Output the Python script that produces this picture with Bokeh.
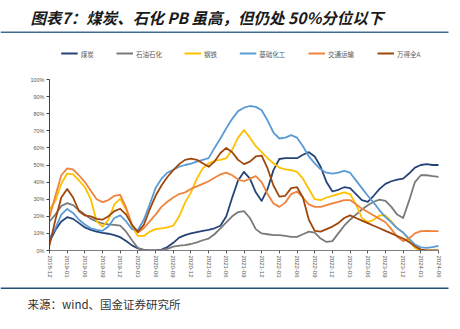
import math
from bokeh.plotting import figure
from bokeh.layouts import column
from bokeh.models import Range1d, FixedTicker
from bokeh.core.properties import value
from bokeh.embed import file_html
from bokeh.resources import INLINE

# ---------------- data (monthly, 2018-12 .. 2024-06, PB percentile %) ----------------
month_index = list(range(67))
tick_positions = [0, 3, 6, 9, 12, 15, 18, 21, 24, 27, 30, 33, 36, 39, 42, 45, 48, 51, 54, 57, 60, 63, 66]
tick_labels = ["2018-12", "2019-03", "2019-06", "2019-09", "2019-12", "2020-03", "2020-06",
               "2020-09", "2020-12", "2021-03", "2021-06", "2021-09", "2021-12", "2022-03",
               "2022-06", "2022-09", "2022-12", "2023-03", "2023-06", "2023-09", "2023-12",
               "2024-03", "2024-06"]
y_ticks = [0, 10, 20, 30, 40, 50, 60, 70, 80, 90, 100]
y_tick_labels = ["0%", "10%", "20%", "30%", "40%", "50%", "60%", "70%", "80%", "90%", "100%"]

series_names = ["煤炭", "石油石化", "钢铁", "基础化工", "交通运输", "万得全A"]

coal = [5, 12, 17, 19.5, 18.5, 16, 13.5, 12, 11, 10.3,
        9.8, 9, 7.8, 5.5, 3, 1.2, 0.3, 0, 0, 0.5,
        2, 4.5, 7.5, 9, 10, 10.8, 11.5, 12, 13, 14.5,
        20, 31, 41, 46, 42, 34, 29, 36, 47, 53.5,
        54, 54, 54, 56, 57.5, 55, 49, 40, 34.5, 35.5,
        37, 36.5, 33, 29.5, 28.5, 32, 36, 39, 40.5, 41.5,
        42, 45, 48.5, 50, 50.5, 50, 50]
oil = [17, 21, 26, 27.7, 26.5, 23.5, 21, 18.5, 17, 15.8,
       15.3, 15, 14.5, 11, 6, 1.5, 0.3, 0, 0, 0.3,
       1, 2.3, 2.8, 3.2, 3.8, 4.8, 6, 7, 9.5, 13,
       16.5, 20, 22.5, 23, 19, 12.5, 10, 9.5, 9, 9,
       8.5, 8, 8, 9.5, 11, 10.5, 7, 5, 5.5, 10,
       14.5, 18, 21, 24, 26.5, 28.5, 29.7, 29, 25.5, 21,
       19, 29, 40, 44, 44, 43.5, 43]
steel = [24, 29, 39, 45, 44.5, 41, 37, 30, 17, 14,
         18, 27, 30.3, 24, 14, 8.5, 8.5, 11, 12.5, 13,
         13.5, 14.5, 20, 28, 34, 42, 48, 51, 52.5, 53,
         54, 59, 66, 70.5, 66, 61, 57.5, 54, 51, 48.5,
         47.5, 47, 46, 42, 36, 30, 29.5, 31, 32, 33,
         34, 33, 27, 19, 16.6, 18, 20.5, 20.5, 17, 13,
         10.5, 6, 1.5, 0, 0, 0, 0]
chem = [7, 13, 21, 24.3, 22, 18, 15.2, 13, 12, 11.5,
        14, 19, 20.5, 17, 12.5, 12, 18, 27, 36.5, 42,
        45.5, 47.2, 49, 50, 50.8, 52, 53, 54, 60, 65.5,
        71.5, 77, 81.5, 83.5, 84.5, 84, 82, 76, 69, 65.5,
        66, 67.5, 66, 61, 55, 51, 47.5, 45.5, 45, 45.5,
        46.5, 45.5, 41, 36.5, 32, 28, 23.5, 19.5, 16.5, 13,
        10.5, 7, 3.5, 1.8, 1.5, 2, 2.7]
transport = [19.5, 32, 44, 48, 47.5, 44, 40, 35, 30, 28.3,
             29.5, 32, 32.5, 25, 15, 10.5, 13, 17, 21, 25.5,
             28.5, 31, 33, 34, 36, 37.5, 39, 40.5, 42.5, 44.5,
             45.5, 44, 41.5, 40.5, 42, 43.5, 40, 33, 27.5, 25.5,
             28, 33, 34.5, 31, 27, 25.5, 25.5, 26.5, 27.5, 28.5,
             29.5, 29.5, 27, 24.5, 22.5, 20.5, 18.5, 16.5, 12.5, 8,
             5.5, 7, 10, 11.3, 11.5, 11.3, 11.3]
wind_a = [3, 18, 31, 36, 31, 23, 20.5, 20, 18.5, 18,
          20, 23, 24.4, 21, 15, 10.8, 15, 24, 32, 38,
          43, 47, 50.5, 53, 53.7, 53, 51, 49, 52, 57,
          60, 57.5, 53, 50.5, 52, 55, 55.5, 48, 38, 31.5,
          32, 36.5, 37, 31, 18, 11.5, 11, 12.5, 14, 16,
          19, 20.5, 19, 17.5, 16, 14.5, 13, 11.5, 10, 8.5,
          7, 5, 2.5, 0.5, 0, 0, 0]

series_values = [coal, oil, steel, chem, transport, wind_a]
series_colors = ["#264478", "#7a7a7a", "#FFC000", "#5B9BD5", "#F0843C", "#9E480E"]

# ---------------- layout (pixels) ----------------
W = 460
TOP_H = 70          # title + rule + legend strip
MAIN_H = 215        # chart
BOT_H = 329 - TOP_H - MAIN_H
FL, FR = 49, 438    # frame left/right in page px
FT, FB = 79, 250    # frame top/bottom in page px
XMAX = 66
CJK = "Noto Sans CJK SC"


def strip(height):
    f = figure(width=W, height=height, output_backend="svg", toolbar_location=None,
               x_range=Range1d(0, W), y_range=Range1d(height, 0),
               x_axis_type=None, y_axis_type=None, frame_align=False,
               min_border=0, min_border_left=0, min_border_right=0,
               min_border_top=0, min_border_bottom=0,
               background_fill_color="white", border_fill_color="white")
    f.outline_line_color = None
    f.xgrid.visible = False
    f.ygrid.visible = False
    return f


# --- top strip: title, rule, legend
top = strip(TOP_H)
top.text(x=[30], y=[16], text=["图表7：煤炭、石化 PB 虽高，但仍处 50%分位以下"],
         text_font=value(CJK), text_font_size="15.5px", text_font_style="bold italic",
         text_color="#1a1a1a", text_baseline="middle", text_align="left")
top.segment(x0=[0], y0=[31.8], x1=[448], y1=[31.8], line_color="#3E6C96", line_width=1.6)
leg_line_x = [60.7, 116, 184, 239.3, 308, 377]
for name, col, lx in zip(series_names, series_colors, leg_line_x):
    top.segment(x0=[lx], y0=[53], x1=[lx + 16.5], y1=[53], line_color=col, line_width=1.9)
    top.text(x=[lx + 19.5], y=[53], text=[name], text_font=value(CJK),
             text_font_size="6.5px", text_color="#595959",
             text_baseline="middle", text_align="left")

# --- main chart
p = figure(width=W, height=MAIN_H, output_backend="svg", toolbar_location=None,
           x_range=Range1d(0, XMAX), y_range=Range1d(0, 100), frame_align=False,
           min_border_left=FL, min_border_right=W - FR,
           min_border_top=FT - TOP_H, min_border_bottom=TOP_H + MAIN_H - FB,
           background_fill_color="white", border_fill_color="white")
p.outline_line_color = None
p.xgrid.visible = False
p.ygrid.visible = False

for vals, col in zip(series_values, series_colors):
    p.line(month_index, vals, line_color=col, line_width=1.8, line_join="round", line_cap="round")

p.xaxis.ticker = FixedTicker(ticks=tick_positions)
p.xaxis.major_label_overrides = {t: l for t, l in zip(tick_positions, tick_labels)}
p.xaxis.major_label_orientation = -math.pi / 2
p.xaxis.major_label_text_font_size = "6px"
p.xaxis.major_label_text_color = "#595959"
p.xaxis.major_label_text_font = "Liberation Sans"
p.xaxis.major_label_standoff = 2
p.xaxis.axis_line_color = "#7f7f7f"
p.xaxis.major_tick_line_color = "#595959"
p.xaxis.major_tick_out = 3
p.xaxis.major_tick_in = 0
p.xaxis.minor_tick_line_color = None

p.yaxis.ticker = FixedTicker(ticks=y_ticks)
p.yaxis.major_label_overrides = {t: l for t, l in zip(y_ticks, y_tick_labels)}
p.yaxis.major_label_text_font_size = "5.5px"
p.yaxis.major_label_text_color = "#595959"
p.yaxis.major_label_text_font = "Liberation Sans"
p.yaxis.major_label_standoff = 2
p.yaxis.axis_line_color = "#404040"
p.yaxis.major_tick_line_color = "#404040"
p.yaxis.major_tick_out = 3
p.yaxis.major_tick_in = 0
p.yaxis.minor_tick_line_color = None

# --- bottom strip: rule + source
bot = strip(BOT_H)
bot.segment(x0=[0], y0=[287.8 - TOP_H - MAIN_H], x1=[448], y1=[287.8 - TOP_H - MAIN_H],
            line_color="#1F4E79", line_width=1.6)
bot.text(x=[27], y=[303 - TOP_H - MAIN_H], text=["来源：wind、国金证券研究所"],
         text_font=value(CJK), text_font_size="11.5px", text_color="#333333",
         text_baseline="middle", text_align="left")

layout = column(top, p, bot, spacing=0)
open("out.html", "w").write(file_html(layout, INLINE))
